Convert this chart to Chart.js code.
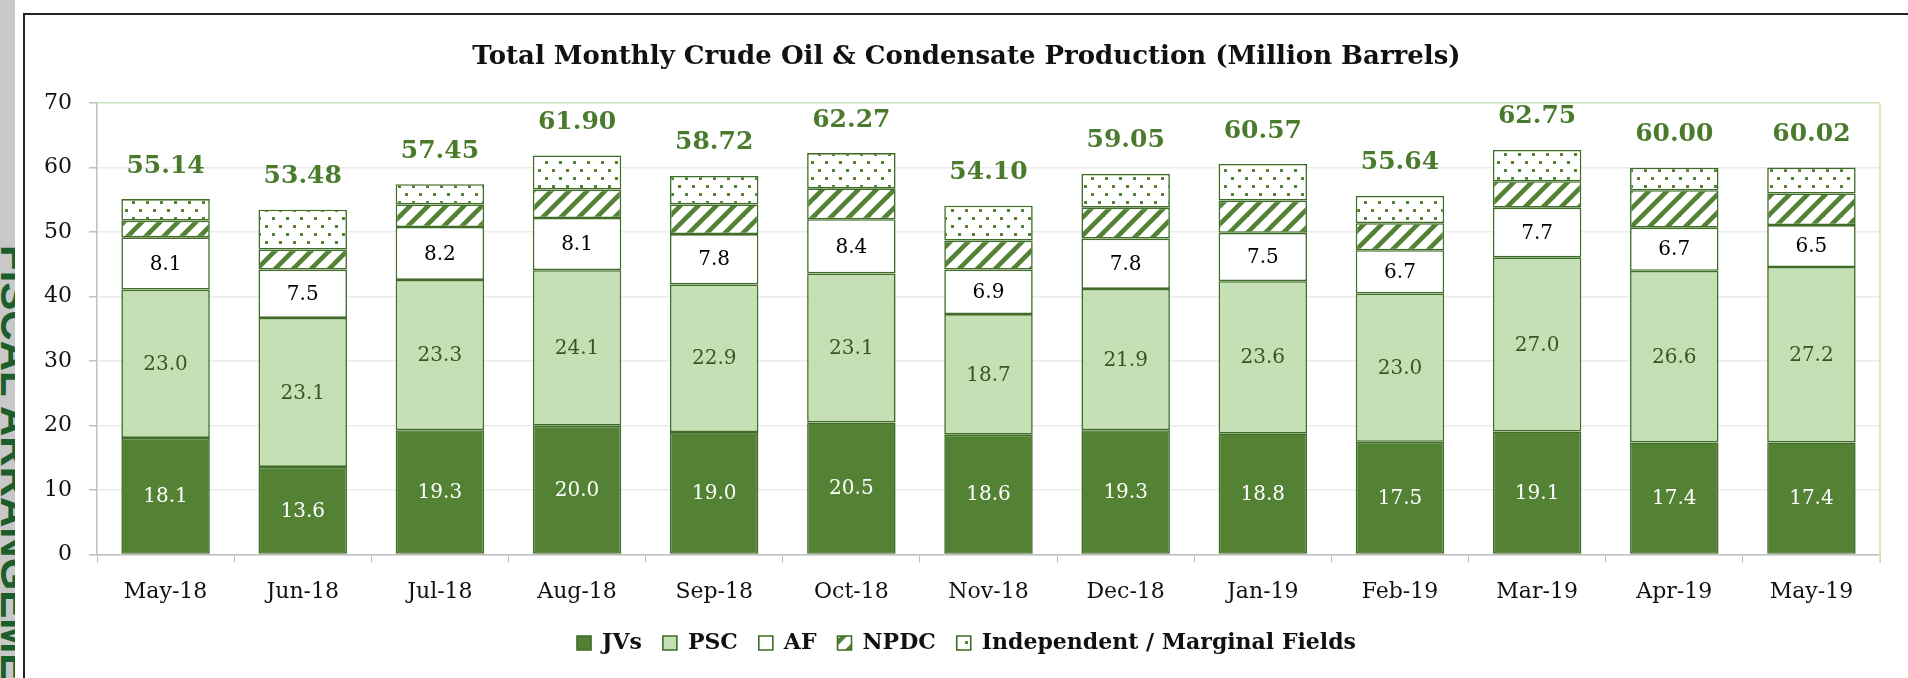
<!DOCTYPE html>
<html>
<head>
<meta charset="utf-8">
<script src="https://cdn.jsdelivr.net/npm/chart.js@4.4.1/dist/chart.umd.min.js"></script>
<style>
  html, body { margin: 0; padding: 0; background: #ffffff; width: 1908px; height: 678px; overflow: hidden; }
  #strip { position: absolute; left: 0; top: 0; width: 15px; height: 678px; background: #c8c8c8; overflow: hidden; }
  #strip span { position: absolute; left: 0; top: 245px; transform-origin: 0 0; transform: rotate(90deg) translate(0, -36px);
    font-family: "Liberation Sans", Arial, sans-serif; font-weight: bold; font-size: 42px; color: #1b5e2c; white-space: nowrap; line-height: 42px; }
  #box { position: absolute; left: 23px; top: 13px; width: 1885px; height: 665px; border-left: 2px solid #222; border-top: 2px solid #222; box-sizing: border-box; }
  #wrap { position: absolute; left: 0; top: 0; width: 1883px; height: 663px; }
</style>
</head>
<body>
<div id="strip"><span>FISCAL ARRANGEMENT</span></div>
<div id="box"><div id="wrap"><canvas id="c"></canvas></div></div>
<script>
const categories = ["May-18","Jun-18","Jul-18","Aug-18","Sep-18","Oct-18","Nov-18","Dec-18","Jan-19","Feb-19","Mar-19","Apr-19","May-19"];
const jvs   = [18.1, 13.6, 19.3, 20.0, 19.0, 20.5, 18.6, 19.3, 18.8, 17.5, 19.1, 17.4, 17.4];
const psc   = [23.0, 23.1, 23.3, 24.1, 22.9, 23.1, 18.7, 21.9, 23.6, 23.0, 27.0, 26.6, 27.2];
const af    = [8.1, 7.5, 8.2, 8.1, 7.8, 8.4, 6.9, 7.8, 7.5, 6.7, 7.7, 6.7, 6.5];
const npdc  = [2.6, 3.1, 3.5, 4.4, 4.6, 4.8, 4.5, 4.8, 5.0, 4.2, 4.1, 5.8, 4.9];
const indep = [3.34, 6.18, 3.15, 5.30, 4.42, 5.47, 5.40, 5.25, 5.67, 4.24, 4.85, 3.50, 4.02];
const totals = [55.14, 53.48, 57.45, 61.90, 58.72, 62.27, 54.10, 59.05, 60.57, 55.64, 62.75, 60.00, 60.02];
const yTicks = [0, 10, 20, 30, 40, 50, 60, 70];
const seriesNames = ["JVs", "PSC", "AF", "NPDC", "Independent / Marginal Fields"];

const GREEN = '#548235';
const LIGHT = '#c5e0b4';
const EDGE = '#3f6c26';

function hatchPattern() {
  const s = 18;
  const c = document.createElement('canvas'); c.width = s; c.height = s;
  const x = c.getContext('2d');
  x.fillStyle = '#ffffff'; x.fillRect(0, 0, s, s);
  x.strokeStyle = GREEN; x.lineWidth = 4.6;
  for (let k = -1; k <= 1; k++) {
    x.beginPath(); x.moveTo(k * s - 3, s + 3); x.lineTo(k * s + s + 3, -3); x.stroke();
  }
  return x.createPattern(c, 'repeat');
}
function dotPattern() {
  const w = 14, h = 16;
  const c = document.createElement('canvas'); c.width = w; c.height = h;
  const x = c.getContext('2d');
  x.fillStyle = '#ffffff'; x.fillRect(0, 0, w, h);
  x.fillStyle = GREEN;
  x.fillRect(2, 2, 3, 3);
  x.fillRect(9, 10, 3, 3);
  return x.createPattern(c, 'repeat');
}

const SERIF = '"DejaVu Serif", serif';

const labelPlugin = {
  id: 'labels',
  afterDatasetsDraw(chart) {
    const ctx = chart.ctx;
    const colors = ['#ffffff', '#375623', '#000000'];
    ctx.save();
    ctx.textAlign = 'center';
    ctx.textBaseline = 'middle';
    ctx.font = '20px ' + SERIF;
    for (let d = 0; d < 3; d++) {
      const meta = chart.getDatasetMeta(d);
      ctx.fillStyle = colors[d];
      meta.data.forEach((el, i) => {
        const v = chart.data.datasets[d].data[i];
        ctx.fillText(v.toFixed(1), el.x, (el.y + el.base) / 2 + 1);
      });
    }
    const y = chart.scales.y;
    const meta = chart.getDatasetMeta(4);
    ctx.font = 'bold 25px ' + SERIF;
    ctx.fillStyle = '#4a7a2c';
    meta.data.forEach((el, i) => {
      ctx.fillText(totals[i].toFixed(2), el.x, y.getPixelForValue(totals[i]) - 33);
    });
    ctx.restore();
  },
  beforeDatasetsDraw(chart) {
    const a = chart.chartArea, ctx = chart.ctx;
    ctx.save();
    ctx.strokeStyle = '#c9e3b9';
    ctx.lineWidth = 1.5;
    ctx.beginPath();
    ctx.moveTo(a.right, a.top); ctx.lineTo(a.right, a.bottom + 8);
    ctx.stroke();
    ctx.restore();
  }
};

const hatch = hatchPattern();
const dots = dotPattern();
const fills = [GREEN, LIGHT, '#ffffff', hatch, dots];
const dataArrays = [jvs, psc, af, npdc, indep];

new Chart(document.getElementById('c'), {
  type: 'bar',
  data: {
    labels: categories,
    datasets: dataArrays.map((arr, i) => ({
      label: seriesNames[i],
      data: arr,
      backgroundColor: fills[i],
      borderColor: EDGE,
      borderWidth: 1.6,
      borderSkipped: false,
      categoryPercentage: 1.0,
      barPercentage: 0.645
    }))
  },
  options: {
    responsive: true,
    maintainAspectRatio: false,
    animation: false,
    layout: { padding: { left: 0, right: 0, top: 0, bottom: 14 } },
    plugins: {
      title: {
        display: true,
        text: 'Total Monthly Crude Oil & Condensate Production (Million Barrels)',
        color: '#111111',
        font: { family: SERIF, size: 26, weight: 'bold', lineHeight: 1.2 },
        padding: { top: 27, bottom: 30 }
      },
      legend: {
        position: 'bottom',
        labels: {
          color: '#111111',
          font: { family: SERIF, size: 22, weight: 'bold' },
          boxWidth: 14,
          boxHeight: 14,
          padding: 21
        }
      },
      tooltip: { enabled: false }
    },
    scales: {
      x: {
        stacked: true,
        afterFit(scale) { scale.height = scale.height - 11; },
        grid: { display: true, drawOnChartArea: false, drawTicks: true, tickLength: 8, offset: true, color: '#bfbfbf' },
        border: { display: true, color: '#bfbfbf', width: 1.5 },
        ticks: { color: '#111111', font: { family: SERIF, size: 22 }, padding: 16.5, maxRotation: 0 }
      },
      y: {
        stacked: true,
        min: 0, max: 70,
        afterBuildTicks(scale) { scale.ticks = yTicks.map(v => ({ value: v })); },
        afterFit(scale) { scale.width = 72; },
        grid: {
          color: (c) => (c.tick && c.tick.value === 70) ? '#c9e3b9' : '#ececec',
          tickColor: '#bfbfbf',
          tickLength: 8,
          lineWidth: 1.5
        },
        border: { display: true, color: '#bfbfbf', width: 1.5 },
        ticks: { color: '#111111', font: { family: SERIF, size: 22 }, padding: 17 }
      },
      yRight: {
        position: 'right',
        display: true,
        afterFit(scale) { scale.width = 28; },
        grid: { display: false },
        border: { display: false },
        ticks: { display: false }
      }
    }
  },
  plugins: [labelPlugin]
});
</script>
</body>
</html>
